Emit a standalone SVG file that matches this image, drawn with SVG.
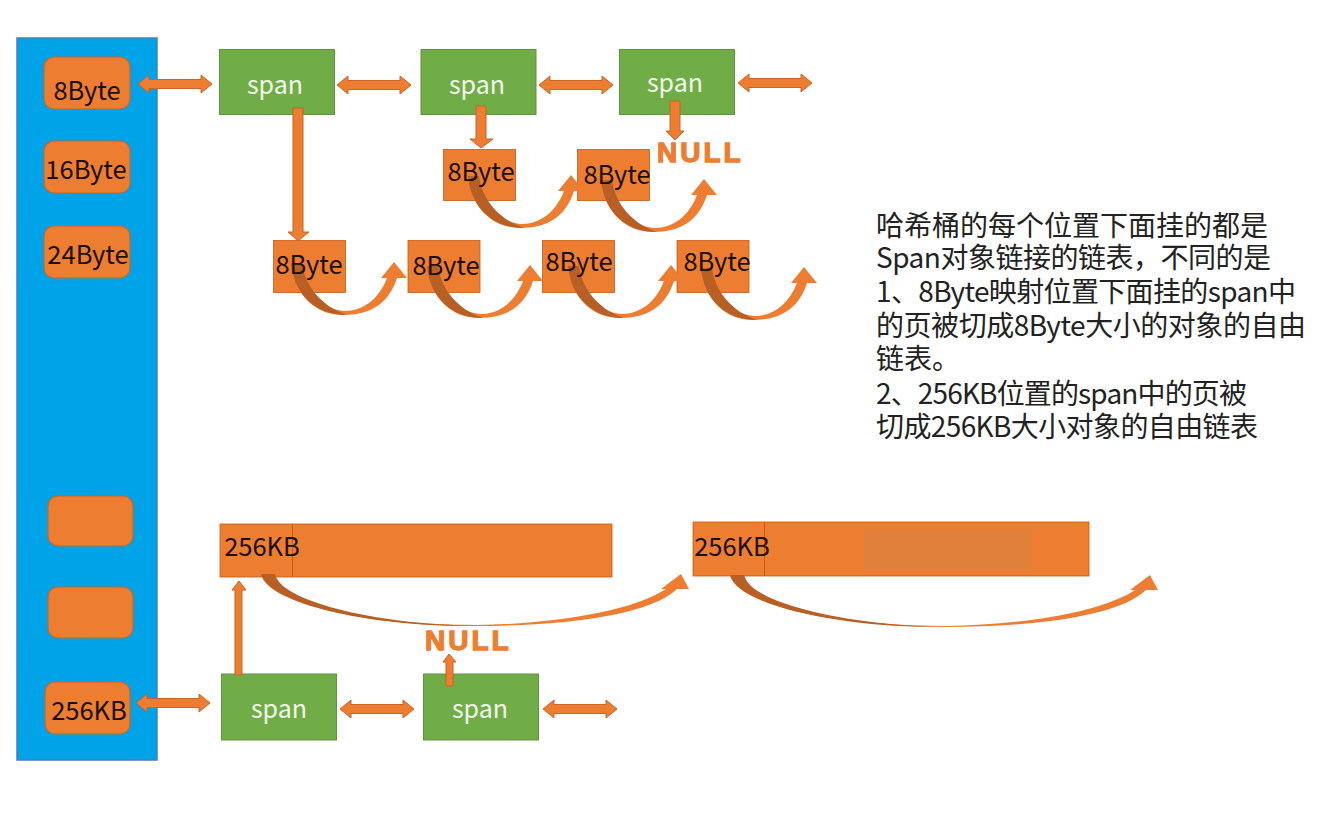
<svg xmlns="http://www.w3.org/2000/svg" xmlns:xlink="http://www.w3.org/1999/xlink" width="1335" height="835" viewBox="0 0 1335 835">
<style>
.t{font-family:"Noto Sans CJK SC","Liberation Sans",sans-serif}
.bar{fill:#00a2e8;stroke:#4a7ebb;stroke-width:1.5}
.rr{fill:#ed7d31;stroke:#c0692f;stroke-width:1.2}
.sq{fill:#ed7d31;stroke:#c55a11;stroke-width:.8}
.sp{fill:#70ad47;stroke:#5f9440;stroke-width:1}
.lbl{font-size:25.500px;fill:#1a1008;text-anchor:middle}
.sl{font-size:25px;fill:#f2f7ee;text-anchor:middle}
.nul{font-family:"Liberation Sans",sans-serif;font-weight:bold;font-size:28px;fill:#ed7d31;stroke:#ed7d31;stroke-width:1.300;letter-spacing:3px}
.note{font-size:28px;fill:#222}
.ar{fill:#ed7d31;stroke:#c9652a;stroke-width:1}
.cv{fill:#ed7d31}
.dk{fill:#b85f25}
</style>
<defs>
<path id="dbl" class="ar" d="M0,0 L11,-9 V-4.500 H63 V-9 L74,0 L63,9 V4.500 H11 V9 Z"/>
<g id="curve">
<path class="cv" d="M0,0 C3,32 25,52 52,52 C80,52 98,40 106,15 L116,15 L103,-1 L90,15 L96,15 C88,36 72,48 54,48 C32,47 14,28 11,0 Z"/>
<path class="dk" d="M0,0 L11,0 C14,24 32,44 56,52 C25,52 3,32 0,0 Z"/>
</g>
<g id="longc">
<path class="cv" d="M0,0 C6,30 110,52 215,52 C300,52 388,42 416,15 L428,15 L420,0 L400,15 L405,15 C370,38 290,50 215,51 C110,50 24,34 14,0 Z"/>
<path class="dk" d="M0,0 L14,0 C18,26 110,50 215,52 C110,53 8,30 0,0 Z"/>
</g>
</defs>
<g id="hash-bar"><rect class="bar" x="17" y="38" width="140" height="722"/></g>
<g id="b8"><rect class="rr" x="44" y="57" width="86" height="52" rx="10"/><text class="t lbl" x="87" y="100">8Byte</text></g>
<g id="b16"><rect class="rr" x="44" y="141" width="86" height="52" rx="10"/><text class="t lbl" x="86" y="179">16Byte</text></g>
<g id="b24"><rect class="rr" x="44" y="226" width="86" height="52" rx="10"/><text class="t lbl" x="88" y="264">24Byte</text></g>
<g id="bx1"><rect class="rr" x="48" y="496" width="85" height="50" rx="10"/></g>
<g id="bx2"><rect class="rr" x="48" y="587" width="85" height="51" rx="10"/></g>
<g id="b256"><rect class="rr" x="45" y="682" width="85" height="52" rx="10"/><text class="t lbl" x="89" y="720">256KB</text></g>
<g id="span1"><rect class="sp" x="219.500" y="49.500" width="115" height="65"/><text class="t sl" x="275" y="94">span</text></g>
<g id="span2"><rect class="sp" x="421" y="49.500" width="115" height="65"/><text class="t sl" x="477" y="94">span</text></g>
<g id="span3"><rect class="sp" x="619.500" y="49.500" width="115" height="65"/><text class="t sl" x="675" y="92">span</text></g>
<g id="span4"><rect class="sp" x="221.500" y="674" width="115" height="66"/><text class="t sl" x="279" y="718">span</text></g>
<g id="span5"><rect class="sp" x="423.500" y="674" width="115" height="66"/><text class="t sl" x="480" y="718">span</text></g>
<g id="n1"><rect class="sq" x="443.500" y="149.500" width="72" height="51"/></g>
<g id="n2"><rect class="sq" x="577.500" y="149.500" width="72" height="51"/></g>
<g id="n3"><rect class="sq" x="273.500" y="240.500" width="72" height="52"/></g>
<g id="n4"><rect class="sq" x="408" y="240.500" width="72" height="52"/></g>
<g id="n5"><rect class="sq" x="542.500" y="240.500" width="72" height="52"/></g>
<g id="n6"><rect class="sq" x="677" y="240.500" width="72" height="52"/></g>
<g id="bar1"><rect class="sq" x="220" y="524" width="392" height="53"/><line x1="292.500" y1="524" x2="292.500" y2="577" stroke="#c55a11"/><text class="t lbl" x="262" y="556">256KB</text></g>
<g id="bar2"><rect class="sq" x="693" y="522" width="396" height="54"/><rect x="864" y="529" width="167" height="41" fill="#e0803a"/><line x1="764.500" y1="522" x2="764.500" y2="576" stroke="#c55a11"/><text class="t lbl" x="732" y="556">256KB</text></g>
<g id="null1"><text class="nul" x="657" y="162">NULL</text></g>
<g id="null2"><text class="nul" x="425" y="650">NULL</text></g>
<g id="connectors">
<use xlink:href="#dbl" href="#dbl" x="138" y="84"/>
<use xlink:href="#dbl" href="#dbl" x="337" y="85"/>
<use xlink:href="#dbl" href="#dbl" x="539" y="85"/>
<use xlink:href="#dbl" href="#dbl" x="738" y="83"/>
<use xlink:href="#dbl" href="#dbl" x="136" y="703"/>
<use xlink:href="#dbl" href="#dbl" x="340" y="709"/>
<use xlink:href="#dbl" href="#dbl" x="543" y="709"/>
<path class="ar" d="M293,108 H303 V232 H309 L298,241 L288,232 H293 Z"/>
<path class="ar" d="M476,106 H486 V139 H493 L481,148 L470,139 H476 Z"/>
<path class="ar" d="M670,101 H680 V131 H684 L675,140 L666,131 H670 Z"/>
<path class="ar" d="M235,675 V590 H232 L239,581 L246,590 H242 V675 Z"/>
<path class="ar" d="M446,686 V662 H443 L449,654 L456,662 H453 V686 Z"/>
<use xlink:href="#curve" href="#curve" x="291" y="263"/>
<use xlink:href="#curve" href="#curve" x="427" y="266"/>
<use xlink:href="#curve" href="#curve" x="568" y="266"/>
<use xlink:href="#curve" href="#curve" x="701" y="268"/>
<use xlink:href="#curve" href="#curve" x="468" y="176"/>
<use xlink:href="#curve" href="#curve" x="601" y="180"/>
<use xlink:href="#longc" href="#longc" x="261" y="574"/>
<use xlink:href="#longc" href="#longc" x="730" y="575"/>
</g>
<g id="node-labels" class="t lbl">
<text x="481" y="181">8Byte</text>
<text x="617" y="184">8Byte</text>
<text x="309" y="274">8Byte</text>
<text x="446" y="275">8Byte</text>
<text x="579" y="271">8Byte</text>
<text x="717" y="271">8Byte</text>
</g>
<g id="note" class="t note">
<text x="876" y="236">哈希桶的每个位置下面挂的都是</text>
<text x="876" y="268" textLength="395">Span对象链接的链表，不同的是</text>
<text x="876" y="302" textLength="420">1、8Byte映射位置下面挂的span中</text>
<text x="876" y="336" textLength="430">的页被切成8Byte大小的对象的自由</text>
<text x="876" y="369">链表。</text>
<text x="876" y="404" textLength="371">2、256KB位置的span中的页被</text>
<text x="876" y="437" textLength="382">切成256KB大小对象的自由链表</text>
</g>
</svg>
